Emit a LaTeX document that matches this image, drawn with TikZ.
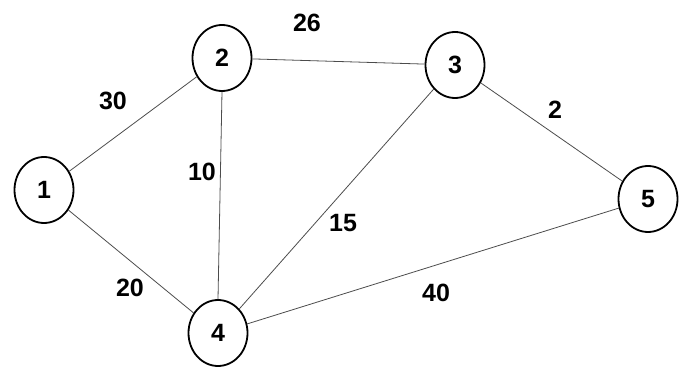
\documentclass[tikz,border=0pt]{standalone}
\usepackage{fontspec}
\setmainfont{Liberation Sans}
\usetikzlibrary{shapes.geometric}
\begin{document}
\begin{tikzpicture}[x=1pt,y=-1pt,
  vert/.style={ellipse,draw=black,line width=1.8pt,minimum width=59pt,minimum height=66pt,inner sep=0pt,font=\fontsize{25}{25}\selectfont\bfseries},
  edge/.style={draw=black!70,line width=0.8pt},
  wlab/.style={font=\fontsize{25}{25}\selectfont\bfseries,inner sep=0pt}]
\useasboundingbox (0,0) rectangle (680,371);
\node[vert] (n1) at (44,190) {1};
\node[vert] (n2) at (222,58) {2};
\node[vert] (n3) at (455,65) {3};
\node[vert] (n4) at (218,333) {4};
\node[vert] (n5) at (648,199) {5};
\draw[edge] (n1) -- (n2);
\draw[edge] (n1) -- (n4);
\draw[edge] (n2) -- (n3);
\draw[edge] (n2.south) -- (n4.north);
\draw[edge] (n3) -- (n4);
\draw[edge] (n3) -- (n5);
\draw[edge] (n4) -- (n5);
\node[wlab] (w12) at (113,101) {30};
\node[wlab] (w23) at (307,23) {26};
\node[wlab] (w35) at (555,110) {2};
\node[wlab] (w24) at (202,172) {10};
\node[wlab] (w34) at (343,223) {15};
\node[wlab] (w14) at (130,288) {20};
\node[wlab] (w45) at (436,293) {40};
\end{tikzpicture}
\end{document}
